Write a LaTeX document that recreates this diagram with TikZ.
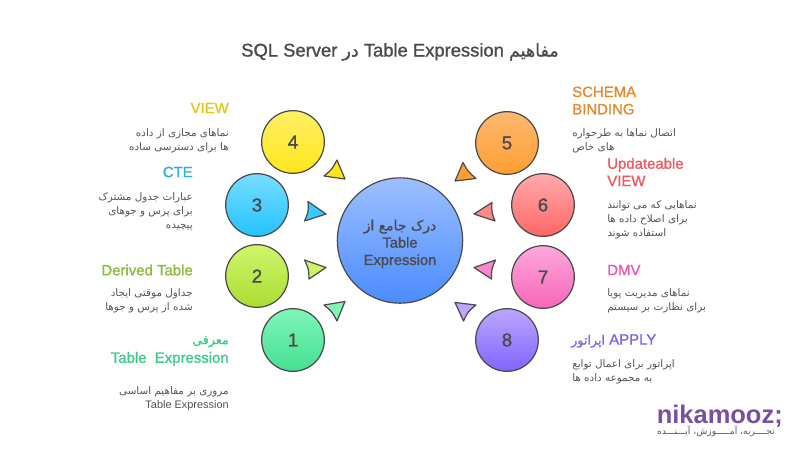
\documentclass[tikz,border=0pt]{standalone}
\usepackage{fontspec}
\setmainfont[BoldFont={Liberation Sans},BoldFeatures={FakeBold=1.1}]{Liberation Sans}
\newfontfamily\farsi[Script=Arabic,Scale=0.95,BoldFont={DejaVu Sans},BoldFeatures={FakeBold=0.8}]{DejaVu Sans}
\newfontfamily\farsihead[Script=Arabic,Scale=0.85,BoldFont={DejaVu Sans},BoldFeatures={FakeBold=0.8}]{DejaVu Sans}
\newfontfamily\logofont{Liberation Sans Bold}
\TeXXeTstate=1
\usetikzlibrary{positioning}

\definecolor{inkgray}{HTML}{4A4A4A}
\definecolor{textgray}{HTML}{555555}
\definecolor{hubtop}{HTML}{9DBFFF}
\definecolor{hubbot}{HTML}{4A8BFF}
\definecolor{viewc}{HTML}{E6C619}
\definecolor{ctec}{HTML}{2AAFE0}
\definecolor{derivedc}{HTML}{8DBB3A}
\definecolor{introc}{HTML}{3DCB8A}
\definecolor{schemac}{HTML}{E68A2E}
\definecolor{updatec}{HTML}{EE5A5F}
\definecolor{dmvc}{HTML}{E85AAF}
\definecolor{applyc}{HTML}{7A66F0}
\definecolor{logoc}{HTML}{7B4F9E}
\definecolor{yellowtop}{HTML}{FFEF66}
\definecolor{yellowbot}{HTML}{FFE61A}
\definecolor{cyantop}{HTML}{77DDFF}
\definecolor{cyanbot}{HTML}{22C3FF}
\definecolor{limetop}{HTML}{CFF56A}
\definecolor{limebot}{HTML}{ABDD33}
\definecolor{greentop}{HTML}{7FF5B8}
\definecolor{greenbot}{HTML}{45E092}
\definecolor{orangetop}{HTML}{FFB870}
\definecolor{orangebot}{HTML}{FF9F33}
\definecolor{redtop}{HTML}{FFAAAA}
\definecolor{redbot}{HTML}{FF6666}
\definecolor{pinktop}{HTML}{FFA8DD}
\definecolor{pinkbot}{HTML}{F566B8}
\definecolor{violettop}{HTML}{BBA5FF}
\definecolor{violetbot}{HTML}{8066FF}

\newcommand{\fa}[1]{{\farsi\beginR #1\endR}}
\newcommand{\fahead}[1]{{\farsihead\beginR #1\endR}}

\begin{document}
\begin{tikzpicture}[
        x=0.75pt, y=-0.75pt,
        bubble/.style={circle, draw=inkgray, line width=0.9pt, minimum size=47pt, inner sep=0pt, font=\fontsize{14}{14}\selectfont\bfseries, text=inkgray},
        hubble/.style={circle, draw=inkgray, line width=0.9pt, minimum size=94pt, inner sep=0pt, align=center, font=\fontsize{11}{13}\selectfont\bfseries, text=inkgray, top color=hubtop, bottom color=hubbot},
        tip/.style={draw=inkgray, line width=0.9pt, line join=round},
        headL/.style={anchor=east, align=right, inner sep=0pt, font=\fontsize{11.2}{13}\selectfont\bfseries},
        headR/.style={anchor=west, align=left, inner sep=0pt, font=\fontsize{11.2}{13}\selectfont\bfseries},
        descL/.style={anchor=east, align=right, inner sep=0pt, text=textgray, font=\fontsize{8.2}{10.5}\selectfont},
        descR/.style={anchor=west, align=left, inner sep=0pt, text=textgray, font=\fontsize{8.2}{10.5}\selectfont}
    ]

    \useasboundingbox (0,0) rectangle (800,450);
    \fill[white] (0,0) rectangle (800,450);

    % Title
    \node[inner sep=0pt, text=inkgray, font=\fontsize{13.8}{14}\selectfont\bfseries] (title) at (400,52)
        {\beginR{\farsi مفاهیم} \beginL Table Expression\endL{} {\farsi در} \beginL SQL Server\endL\endR};

    % Hub
    \node[hubble] (hub) at (400,240.5) {\rule{0pt}{13pt}\fa{درک جامع از}\\Table\\Expression};

    % Numbered circles
    \node[bubble, top color=yellowtop, bottom color=yellowbot] (c4) at (293,142) {4};
    \node[bubble, top color=cyantop, bottom color=cyanbot] (c3) at (257,205) {3};
    \node[bubble, top color=limetop, bottom color=limebot] (c2) at (257,276) {2};
    \node[bubble, top color=greentop, bottom color=greenbot] (c1) at (293,340) {1};
    \node[bubble, top color=orangetop, bottom color=orangebot] (c5) at (507,143) {5};
    \node[bubble, top color=redtop, bottom color=redbot] (c6) at (543,205) {6};
    \node[bubble, top color=pinktop, bottom color=pinkbot] (c7) at (543,277) {7};
    \node[bubble, top color=violettop, bottom color=violetbot] (c8) at (507,340) {8};

    % Small triangles
    \draw[tip, fill=yellowbot] (345,179) -- (337,160) .. controls (331.8,169.5) .. (324,176) -- cycle;
    \draw[tip, fill=cyanbot!90!white] (326,214) -- (308,201.5) .. controls (308.5,211.7) .. (304.5,221) -- cycle;
    \draw[tip, fill=limetop!90!limebot] (326,267.5) -- (304.5,260) .. controls (308.7,269) .. (309,279) -- cycle;
    \draw[tip, fill=greentop] (345,301.5) -- (324,305) .. controls (332,311.5) .. (337,321) -- cycle;
    \draw[tip, fill=orangebot] (455,181) -- (463,162.5) .. controls (468,171.5) .. (476,178.5) -- cycle;
    \draw[tip, fill=redtop!50!redbot] (474,214) -- (492,202.5) .. controls (491.5,211.7) .. (495,221) -- cycle;
    \draw[tip, fill=pinktop!50!pinkbot] (474,267.5) -- (495.5,260) .. controls (491.5,269) .. (491.5,279) -- cycle;
    \draw[tip, fill=violettop] (455,302.5) -- (476,305) .. controls (468,311.5) .. (463.5,321) -- cycle;

    % Left labels
    \node[headL, text=viewc] (view) at (229,108) {VIEW};
    \node[descL] (viewd) at (229,140.5) {\fa{نماهای مجازی از داده}\\\fa{ها برای دسترسی ساده}};
    \node[headL, text=ctec] (cte) at (193,172) {CTE};
    \node[descL] (cted) at (193,212) {\fa{عبارات جدول مشترک}\\\fa{برای پرس و جوهای}\\\fa{پیچیده}};
    \node[headL, text=derivedc] (derived) at (193,270) {Derived Table};
    \node[descL] (derivedd) at (193,300.5) {\fa{جداول موقتی ایجاد}\\\fa{شده از پرس و جوها}};
    \node[headL, text=introc] (intro) at (229,351) {\fahead{معرفی}\\[1pt]Table\ \ Expression};
    \node[descL] (introd) at (229,399) {\fa{مروری بر مفاهیم اساسی}\hspace{2pt}\\Table Expression};

    % Right labels
    \node[headR, text=schemac] (schema) at (572,100.5) {SCHEMA\\BINDING};
    \node[descR] (schemad) at (572,140.5) {\fa{اتصال نماها به طرحواره}\\\fa{های خاص}};
    \node[headR, text=updatec] (update) at (607,172) {Updateable\\VIEW};
    \node[descR] (updated) at (607,220) {\fa{نماهایی که می توانند}\\\fa{برای اصلاح داده ها}\\\fa{استفاده شوند}};
    \node[headR, text=dmvc] (dmv) at (607,270) {DMV};
    \node[descR] (dmvd) at (607,300.5) {\fa{نماهای مدیریت پویا}\\\fa{برای نظارت بر سیستم}};
    \node[headR, text=applyc] (apply) at (571,341) {\beginR\beginL APPLY\endL{} {\farsihead اپراتور}\endR};
    \node[descR] (applyd) at (572,371.5) {\fa{اپراتور برای اعمال توابع}\\\fa{به مجموعه داده ها}};

    % Logo
    \node[inner sep=0pt, anchor=base east, text=logoc, font=\logofont\fontsize{19.1}{21}\selectfont] (logo) at (783,423) {nikamooz;};
    \node[inner sep=0pt, text=textgray, font=\fontsize{7.2}{7}\selectfont, anchor=east] (slogan) at (775,431) {\fa{تجــــربه، آمـــــوزش، آیـــنـــده}};

    \end{tikzpicture}
\end{document}
